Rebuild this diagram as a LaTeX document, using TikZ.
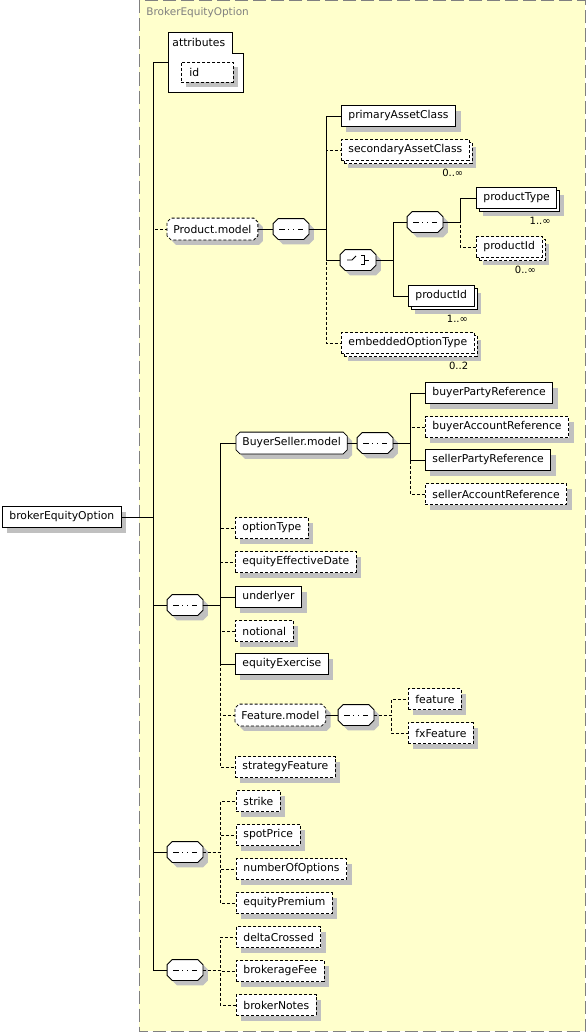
\documentclass[tikz,border=0pt]{standalone}
\usepackage{fontspec}
\setmainfont{DejaVu Sans}
\usetikzlibrary{positioning,shadows}

\definecolor{pane}{RGB}{255,255,204}
\definecolor{panefrm}{RGB}{128,128,128}
\definecolor{shadowgray}{RGB}{192,192,192}

% rectangle with cut corners
\makeatletter
\pgfkeys{/pgf/oct cut/.initial=4pt}
\pgfdeclareshape{octagonbox}{%
  \inheritsavedanchors[from=rectangle]%
  \inheritanchorborder[from=rectangle]%
  \inheritanchor[from=rectangle]{center}%
  \inheritanchor[from=rectangle]{north}%
  \inheritanchor[from=rectangle]{south}%
  \inheritanchor[from=rectangle]{east}%
  \inheritanchor[from=rectangle]{west}%
  \inheritanchor[from=rectangle]{north east}%
  \inheritanchor[from=rectangle]{north west}%
  \inheritanchor[from=rectangle]{south east}%
  \inheritanchor[from=rectangle]{south west}%
  \inheritanchor[from=rectangle]{text}%
  \inheritanchor[from=rectangle]{base}%
  \inheritanchor[from=rectangle]{mid}%
  \backgroundpath{%
    \pgfmathsetlengthmacro\oct@c{\pgfkeysvalueof{/pgf/oct cut}}%
    \southwest\edef\oct@l{\the\pgf@x}\edef\oct@b{\the\pgf@y}%
    \northeast\edef\oct@r{\the\pgf@x}\edef\oct@t{\the\pgf@y}%
    \pgfpathmoveto{\pgfpoint{\oct@l}{\oct@b+\oct@c}}%
    \pgfpathlineto{\pgfpoint{\oct@l}{\oct@t-\oct@c}}%
    \pgfpathlineto{\pgfpoint{\oct@l+\oct@c}{\oct@t}}%
    \pgfpathlineto{\pgfpoint{\oct@r-\oct@c}{\oct@t}}%
    \pgfpathlineto{\pgfpoint{\oct@r}{\oct@t-\oct@c}}%
    \pgfpathlineto{\pgfpoint{\oct@r}{\oct@b+\oct@c}}%
    \pgfpathlineto{\pgfpoint{\oct@r-\oct@c}{\oct@b}}%
    \pgfpathlineto{\pgfpoint{\oct@l+\oct@c}{\oct@b}}%
    \pgfpathclose
  }%
}
\makeatother

\begin{document}
\begin{tikzpicture}[x=1pt, y=-1pt,
    line width=0.8pt,
    box/.style={%
      rectangle, draw=black, fill=white, anchor=west,
      font=\fontsize{10.8}{12}\selectfont, inner xsep=7pt, inner ysep=0pt,
      minimum height=21pt
    },
    one/.style={%
      box, drop shadow={shadow xshift=5pt, shadow yshift=-5pt, fill=shadowgray, opacity=1}
    },
    many/.style={%
      box, drop shadow={shadow xshift=7pt, shadow yshift=-7pt, fill=shadowgray, opacity=1},
      preaction={draw, fill=white, transform canvas={shift={(3pt,-3pt)}}}
    },
    opt/.style={densely dashed},
    grp/.style={shape=octagonbox, /pgf/oct cut=4pt, inner xsep=6pt},
    sym/.style={%
      shape=octagonbox, /pgf/oct cut=5pt,
      draw=black, fill=white, minimum width=35pt, minimum height=20pt, inner sep=0pt,
      drop shadow={shadow xshift=5pt, shadow yshift=-5pt, fill=shadowgray, opacity=1}
    },
    seqsym/.style={sym, path picture={
      \draw[solid] ([xshift=-12pt]path picture bounding box.center)
        -- ([xshift=12pt]path picture bounding box.center);
      \foreach \dx in {-4.6,0,4.6}
        \fill ([xshift=\dx pt]path picture bounding box.center) +(-1.9,-1.9) rectangle +(1.9,1.9);
    }},
    chosym/.style={sym, path picture={
      \coordinate (chc) at (path picture bounding box.center);
      \draw[solid] (chc) ++(-11,0) -- ++(5,0) -- ++(4,-4);
      \foreach \dy in {-4.5,0,4.5}
        \fill (chc) ++(0.5,\dy) +(-1.7,-1.7) rectangle +(1.7,1.7);
      \draw[solid] (chc) ++(3,-4.5) -- ++(3,0) -- ++(0,9) -- ++(-3,0)
        (chc) ++(6,0) -- ++(5,0);
    }},
    mult/.style={font=\fontsize{10}{12}\selectfont, inner sep=0pt, anchor=north east}
]
    \useasboundingbox (0,0) rectangle (586,1033);
    \draw[panefrm, fill=pane, line width=1pt, dash pattern=on 13pt off 5pt]
      (139,0.5) rectangle (585,1031);
    \node[anchor=west, text=panefrm, inner sep=0pt, font=\fontsize{10.5}{12}\selectfont]
      (title) at (146,13) {BrokerEquityOption};

    % root
    \node[one] (beo) at (2,517) {brokerEquityOption};
    \coordinate (spine) at (153,517);

    % attributes
    \node[anchor=west, minimum width=75pt, minimum height=59pt, inner sep=0pt] (attr) at (168,62.5) {};
    \draw[fill=white] (attr.north west) -| ([xshift=-11pt, yshift=-21pt]attr.north east)
      -| (attr.south east) -- (attr.south west) -- cycle;
    \node[anchor=north west, inner sep=0pt, font=\fontsize{10.8}{12}\selectfont]
      (attrtxt) at ([xshift=4pt, yshift=-5pt]attr.north west) {attributes};
    \node[one, opt, text width=36pt, inner xsep=8pt, minimum height=20pt] (id) at (181,72) {id};

    % Product.model
    \node[one, grp, opt] (pm) at (167,229) {Product.model};
    \node[seqsym] (pmseq) at (291,229) {};
    \node[one] (pac) at (341,116) {primaryAssetClass};
    \node[many, opt] (sac) at (341,150) {secondaryAssetClass};
    \node[chosym] (pmch) at (358,260) {};
    \node[seqsym] (chseq) at (425,222) {};
    \node[many] (ptype) at (476,198) {productType};
    \node[many, opt] (pid1) at (476,247) {productId};
    \node[many] (pid2) at (408,296) {productId};
    \node[many, opt] (eot) at (341,343) {embeddedOptionType};
    \node[mult] (sacm) at ([xshift=-6pt, yshift=-8pt]sac.south east) {0..∞};
    \node[mult] (ptypem) at ([xshift=-6pt, yshift=-8pt]ptype.south east) {1..∞};
    \node[mult] (pid1m) at ([xshift=-6pt, yshift=-8pt]pid1.south east) {0..∞};
    \node[mult] (pid2m) at ([xshift=-6pt, yshift=-8pt]pid2.south east) {1..∞};
    \node[mult] (eotm) at ([xshift=-6pt, yshift=-8pt]eot.south east) {0..2};

    % first sequence
    \node[seqsym] (seq1) at (185,605) {};
    \node[one, grp] (bsm) at (236,443) {BuyerSeller.model};
    \node[seqsym] (bsseq) at (375,443) {};
    \node[one] (bpr) at (425,393) {buyerPartyReference};
    \node[one, opt] (bar) at (425,427) {buyerAccountReference};
    \node[one] (spr) at (425,460) {sellerPartyReference};
    \node[one, opt] (sar) at (425,494) {sellerAccountReference};
    \node[one, opt] (optype) at (235,528) {optionType};
    \node[one, opt] (effdate) at (235,562) {equityEffectiveDate};
    \node[one] (undl) at (235,597) {underlyer};
    \node[one, opt] (notl) at (235,631) {notional};
    \node[one] (exer) at (235,664) {equityExercise};
    \node[one, grp, opt] (featm) at (235,715) {Feature.model};
    \node[seqsym] (featseq) at (356,715) {};
    \node[one, opt] (feat) at (408,699) {feature};
    \node[one, opt] (fxfeat) at (408,733) {fxFeature};
    \node[one, opt] (strat) at (235,767) {strategyFeature};

    % second sequence
    \node[seqsym] (seq2) at (185,852) {};
    \node[one, opt] (strike) at (236,801) {strike};
    \node[one, opt] (spot) at (236,835) {spotPrice};
    \node[one, opt] (numopt) at (236,869) {numberOfOptions};
    \node[one, opt] (prem) at (236,903) {equityPremium};

    % third sequence
    \node[seqsym] (seq3) at (185,970) {};
    \node[one, opt] (delta) at (236,937) {deltaCrossed};
    \node[one, opt] (fee) at (236,971) {brokerageFee};
    \node[one, opt] (notes) at (236,1005) {brokerNotes};

    % optional links
    \draw[opt] (spine) |- (pm.west);
    \foreach \c in {sac,eot}
      \draw[opt] (pmseq.east) -- ++(17.5,0) |- (\c.west);
    \draw[opt] (chseq.east) -- ++(17.5,0) |- (pid1.west);
    \foreach \c in {bar,sar}
      \draw[opt] (bsseq.east) -- ++(17.5,0) |- (\c.west);
    \foreach \c in {optype,effdate,notl,featm,strat}
      \draw[opt] (seq1.east) -- ++(17.5,0) |- (\c.west);
    \foreach \c in {feat,fxfeat}
      \draw[opt] (featseq.east) -- ++(17.5,0) |- (\c.west);
    \foreach \c in {strike,spot,numopt,prem}
      \draw[opt] (seq2.east) -- ++(17.5,0) |- (\c.west);
    \foreach \c in {delta,fee,notes}
      \draw[opt] (seq3.east) -- ++(17.5,0) |- (\c.west);

    % required links
    \draw (beo.east) -- (spine);
    \foreach \c in {attr,seq1,seq2,seq3}
      \draw (spine) |- (\c.west);
    \draw (pm.east) -- (pmseq.west);
    \foreach \c in {pac,pmch}
      \draw (pmseq.east) -- ++(17.5,0) |- (\c.west);
    \foreach \c in {chseq,pid2}
      \draw (pmch.east) -- ++(17.5,0) |- (\c.west);
    \draw (chseq.east) -- ++(17.5,0) |- (ptype.west);
    \draw (bsm.east) -- (bsseq.west);
    \foreach \c in {bpr,spr}
      \draw (bsseq.east) -- ++(17.5,0) |- (\c.west);
    \foreach \c in {bsm,undl,exer}
      \draw (seq1.east) -- ++(17.5,0) |- (\c.west);
    \draw (featm.east) -- (featseq.west);
\end{tikzpicture}
\end{document}
